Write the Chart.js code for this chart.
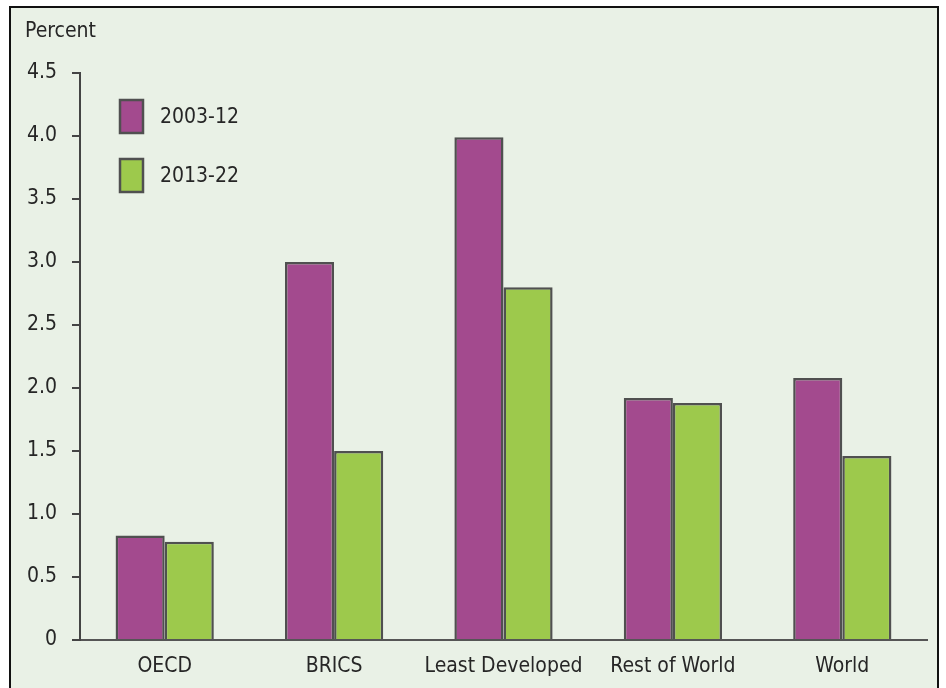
<!DOCTYPE html>
<html>
<head>
<meta charset="utf-8">
<script src="https://cdn.jsdelivr.net/npm/chart.js@4.4.1/dist/chart.umd.min.js"></script>
<style>
  html, body { margin: 0; padding: 0; background: #fff; width: 946px; height: 688px; overflow: hidden; }
  .frame {
    position: absolute; left: 9px; top: 6px; width: 930px; height: 720px;
    box-sizing: border-box; border: 2px solid #111; background: #e9f1e6;
  }
  .wrap { position: absolute; left: 0; top: 0; width: 946px; height: 688px; }
</style>
</head>
<body>
<div class="frame"></div>
<div class="wrap"><canvas id="chart"></canvas></div>
<script>
// ===== DATA =====
const categories = ['OECD', 'BRICS', 'Least Developed', 'Rest of World', 'World'];
const period1 = [0.83, 3.0, 3.99, 1.92, 2.08];   // 2003-12
const period2 = [0.78, 1.5, 2.8, 1.88, 1.46];    // 2013-22
const seriesLabels = ['2003-12', '2013-22'];
const yTicks = [0, 0.5, 1.0, 1.5, 2.0, 2.5, 3.0, 3.5, 4.0, 4.5];

const FONT = "'Liberation Sans Narrow', 'DejaVu Sans Condensed', 'Arial Narrow', sans-serif";
const TEXT = '#262626';

// legend + unit label drawn inside the plot
const extras = {
    id: 'extras',
    afterDraw(chart) {
        const ctx = chart.ctx;
        ctx.save();
        ctx.font = '21px ' + FONT;
        ctx.fillStyle = TEXT;
        ctx.textBaseline = 'middle';
        ctx.textAlign = 'left';
        ctx.fillText('Percent', 25, 32);
        chart.data.datasets.forEach((ds, i) => {
            const y = 100 + i * 59;
            ctx.fillStyle = ds.backgroundColor;
            ctx.fillRect(120, y, 23, 33);
            ctx.strokeStyle = '#505050';
            ctx.lineWidth = 2.5;
            ctx.strokeRect(120, y, 23, 33);
            ctx.fillStyle = TEXT;
            ctx.fillText(ds.label, 160, y + 18);
        });
        ctx.restore();
    }
};

new Chart(document.getElementById('chart'), {
    type: 'bar',
    data: {
        labels: categories,
        datasets: [
            {
                label: seriesLabels[0],
                data: period1,
                backgroundColor: '#a34a8e',
                borderColor: '#505050',
                borderWidth: 2.5,
                categoryPercentage: 0.58,
                barPercentage: 1.0
            },
            {
                label: seriesLabels[1],
                data: period2,
                backgroundColor: '#9dc94c',
                borderColor: '#505050',
                borderWidth: 2.5,
                categoryPercentage: 0.58,
                barPercentage: 1.0
            }
        ]
    },
    options: {
        responsive: true,
        maintainAspectRatio: false,
        animation: false,
        layout: { padding: { top: 73, right: 19, left: 0, bottom: 0 } },
        plugins: {
            legend: { display: false },
            tooltip: { enabled: false }
        },
        scales: {
            x: {
                grid: { display: false, drawTicks: false },
                border: { display: true, color: '#555', width: 2 },
                ticks: { font: { family: FONT, size: 21 }, color: TEXT, padding: 14 },
                afterFit: s => { s.height = 48; }
            },
            y: {
                min: 0,
                max: 4.5,
                afterBuildTicks: s => { s.ticks = yTicks.map(v => ({ value: v })); },
                grid: { drawOnChartArea: false, drawTicks: true, tickLength: 8, color: '#444', lineWidth: 2 },
                border: { display: true, color: '#444', width: 2 },
                ticks: {
                    font: { family: FONT, size: 21 },
                    color: TEXT,
                    padding: 15,
                    callback: v => v === 0 ? '0' : v.toFixed(1)
                },
                afterFit: s => { s.width = 80; }
            }
        }
    },
    plugins: [extras]
});
</script>
</body>
</html>
